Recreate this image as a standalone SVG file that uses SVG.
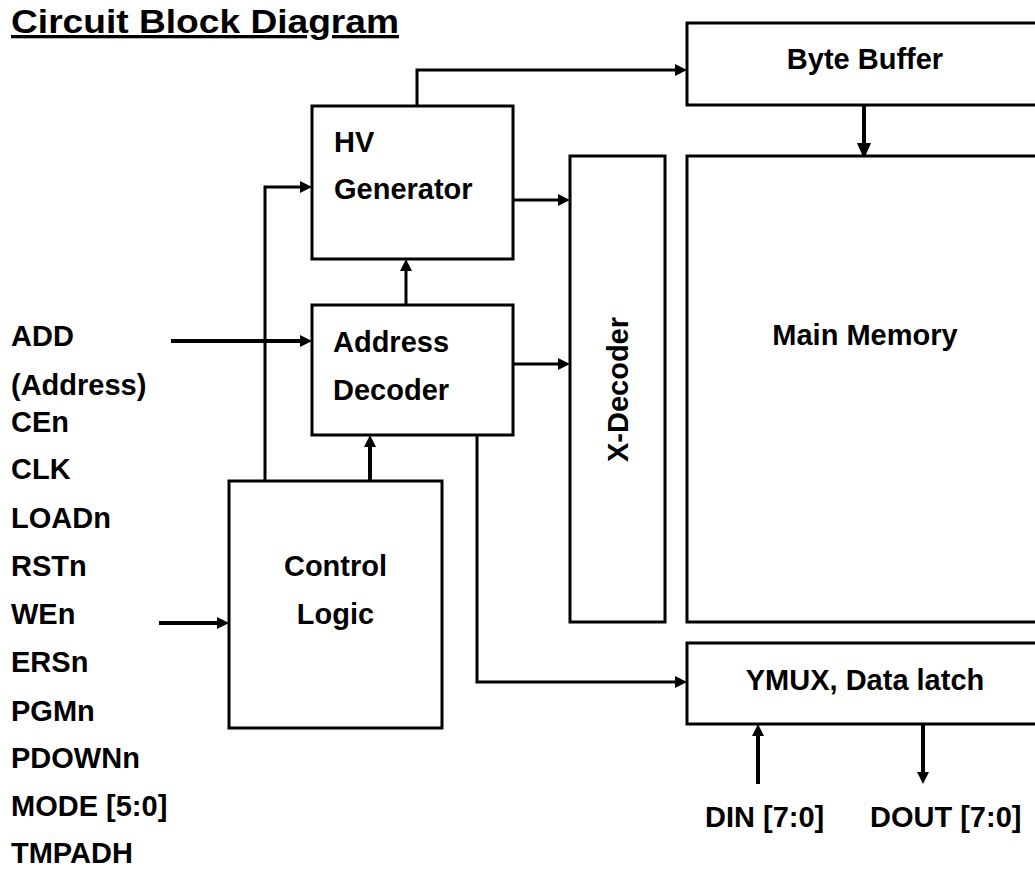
<svg xmlns="http://www.w3.org/2000/svg" width="1035" height="869" viewBox="0 0 1035 869">
<style>
.box{fill:#fff;stroke:#000;stroke-width:3}
.t{font-family:"Liberation Sans",Arial,sans-serif;font-weight:bold;font-size:29px;fill:#000}
.c{stroke:#000;stroke-width:3;fill:none;marker-end:url(#ah)}
.ct{stroke:#000;stroke-width:4;fill:none;marker-end:url(#ah)}
.cb{stroke:#000;stroke-width:4;fill:none;marker-end:url(#ahb)}
</style>
<defs>
<marker id="ah" viewBox="0 0 12 12" refX="4" refY="6" markerWidth="12" markerHeight="12" markerUnits="userSpaceOnUse" orient="auto">
<path d="M0,0 L12,6 L0,12 z" fill="#000"/>
</marker>
<marker id="ahb" viewBox="0 0 16 14" refX="6" refY="7" markerWidth="16" markerHeight="14" markerUnits="userSpaceOnUse" orient="auto">
<path d="M0,0 L16,7 L0,14 z" fill="#000"/>
</marker>
</defs>
<rect width="1035" height="869" fill="#fff"/>
<text class="t" x="11" y="33" style="font-size:33px" text-decoration="underline" textLength="388" lengthAdjust="spacingAndGlyphs">Circuit Block Diagram</text>

<g id="connectors">
<path class="c" d="M417,106 V70 H679"/>
<path class="c" d="M513,200 H562"/>
<path class="c" d="M513,364 H562"/>
<path class="c" d="M406,305 V267"/>
<path class="ct" d="M370,481 V443"/>
<path class="c" d="M265,481 V187 H304"/>
<path class="ct" d="M171,341 H304"/>
<path class="ct" d="M159,623 H221"/>
<path class="c" d="M477,435 V682 H679"/>
<path class="cb" d="M864,105 V149"/>
<path class="ct" d="M758,784 V732"/>
<path class="ct" d="M923,724 V776"/>
</g>

<g id="byte-buffer">
<rect class="box" x="687" y="23" width="360" height="82"/>
<text class="t" x="865" y="69" text-anchor="middle">Byte Buffer</text>
</g>
<g id="hv-generator">
<rect class="box" x="312" y="106" width="201" height="153"/>
<text class="t" x="334" y="152">HV</text>
<text class="t" x="334" y="199">Generator</text>
</g>
<g id="address-decoder">
<rect class="box" x="312" y="305" width="201" height="130"/>
<text class="t" x="333" y="352">Address</text>
<text class="t" x="333" y="400">Decoder</text>
</g>
<g id="control-logic">
<rect class="box" x="229" y="481" width="213" height="247"/>
<text class="t" x="335.5" y="576" text-anchor="middle">Control</text>
<text class="t" x="335.5" y="624" text-anchor="middle">Logic</text>
</g>
<g id="x-decoder">
<rect class="box" x="570" y="156" width="95" height="466"/>
<text class="t" transform="translate(628,389.5) rotate(-90)" text-anchor="middle">X-Decoder</text>
</g>
<g id="main-memory">
<rect class="box" x="687" y="156" width="360" height="466"/>
<text class="t" x="865" y="345" text-anchor="middle">Main Memory</text>
</g>
<g id="ymux">
<rect class="box" x="687" y="643" width="360" height="81"/>
<text class="t" x="865" y="690" text-anchor="middle">YMUX, Data latch</text>
</g>

<g id="labels">
<text class="t" x="11" y="346">ADD</text>
<text class="t" x="11" y="395">(Address)</text>
<text class="t" x="11" y="432">CEn</text>
<text class="t" x="11" y="479">CLK</text>
<text class="t" x="11" y="528">LOADn</text>
<text class="t" x="11" y="576">RSTn</text>
<text class="t" x="11" y="624">WEn</text>
<text class="t" x="11" y="672">ERSn</text>
<text class="t" x="11" y="721">PGMn</text>
<text class="t" x="11" y="768">PDOWNn</text>
<text class="t" x="11" y="816">MODE [5:0]</text>
<text class="t" x="11" y="863">TMPADH</text>
<text class="t" x="705" y="827">DIN [7:0]</text>
<text class="t" x="870" y="827">DOUT [7:0]</text>
</g>
</svg>
